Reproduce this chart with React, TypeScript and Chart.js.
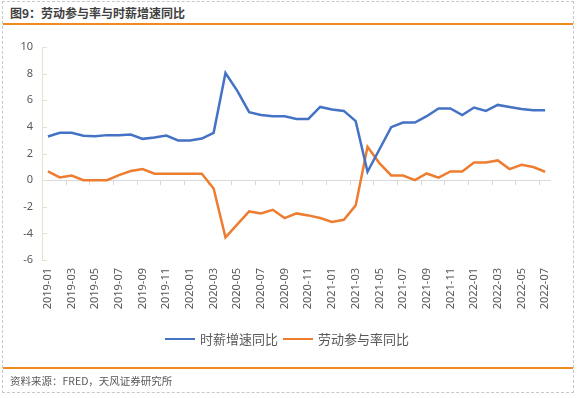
import React, { useEffect, useRef } from 'react';
import { Chart, registerables } from 'chart.js';

Chart.register(...registerables);

const months = [
  '2019-01', '2019-02', '2019-03', '2019-04', '2019-05', '2019-06', '2019-07', '2019-08', '2019-09', '2019-10', '2019-11', '2019-12',
  '2020-01', '2020-02', '2020-03', '2020-04', '2020-05', '2020-06', '2020-07', '2020-08', '2020-09', '2020-10', '2020-11', '2020-12',
  '2021-01', '2021-02', '2021-03', '2021-04', '2021-05', '2021-06', '2021-07', '2021-08', '2021-09', '2021-10', '2021-11', '2021-12',
  '2022-01', '2022-02', '2022-03', '2022-04', '2022-05', '2022-06', '2022-07',
];

const wageGrowth = [
  3.28, 3.55, 3.55, 3.33, 3.3, 3.38, 3.38, 3.43, 3.1, 3.2, 3.35, 2.98,
  2.98, 3.12, 3.55, 8.05, 6.7, 5.1, 4.9, 4.8, 4.8, 4.6, 4.6, 5.5,
  5.3, 5.2, 4.43, 0.63, 2.3, 3.98, 4.33, 4.33, 4.8, 5.38, 5.38, 4.88,
  5.45, 5.2, 5.65, 5.5, 5.35, 5.25, 5.25,
];

const participationGrowth = [
  0.65, 0.2, 0.35, 0.0, 0.0, 0.0, 0.38, 0.68, 0.83, 0.48, 0.48, 0.48,
  0.48, 0.48, -0.63, -4.3, -3.33, -2.35, -2.5, -2.23, -2.85, -2.5, -2.65, -2.85,
  -3.15, -2.98, -1.9, 2.5, 1.28, 0.35, 0.35, 0.0, 0.5, 0.18, 0.65, 0.65,
  1.33, 1.33, 1.48, 0.83, 1.15, 0.98, 0.63,
];

const seriesNames = ['时薪增速同比', '劳动参与率同比'];
const seriesColors = ['#4472C4', '#ED7D31'];
const yMin = -6;
const yMax = 10;
const yStep = 2;

const axisMarks = {
  id: 'axisMarks',
  beforeDatasetsDraw(chart: any) {
    const { ctx, scales } = chart;
    const x = scales.x;
    const y = scales.y;
    const zeroY = y.getPixelForValue(0);
    ctx.save();
    ctx.lineWidth = 1;
    // x tick marks on the zero line, every 2 categories
    ctx.strokeStyle = '#d9d9d9';
    for (let k = 2; k < months.length; k += 2) {
      const px = Math.round(x.getPixelForValue(k - 0.5)) + 0.5;
      ctx.beginPath();
      ctx.moveTo(px, zeroY);
      ctx.lineTo(px, zeroY + 5);
      ctx.stroke();
    }
    // y tick marks pointing right
    ctx.strokeStyle = '#e6e1cc';
    for (let v = yMin; v <= yMax; v += yStep) {
      const py = Math.round(y.getPixelForValue(v)) + 0.5;
      ctx.beginPath();
      ctx.moveTo(x.left, py);
      ctx.lineTo(x.left + 5, py);
      ctx.stroke();
    }
    ctx.restore();
  },
};

export default function App() {
  const canvasRef = useRef<HTMLCanvasElement | null>(null);

  useEffect(() => {
    const canvas = canvasRef.current;
    if (!canvas) return;
    const chart = new Chart(canvas, {
      type: 'line',
      data: {
        labels: months,
        datasets: [
          {
            label: seriesNames[0],
            data: wageGrowth,
            borderColor: seriesColors[0],
            backgroundColor: seriesColors[0],
            borderWidth: 2.5,
            pointRadius: 0,
            tension: 0,
          },
          {
            label: seriesNames[1],
            data: participationGrowth,
            borderColor: seriesColors[1],
            backgroundColor: seriesColors[1],
            borderWidth: 2.5,
            pointRadius: 0,
            tension: 0,
          },
        ],
      },
      options: {
        responsive: false,
        animation: false,
        devicePixelRatio: 1,
        layout: { padding: { top: 47, left: 0, right: 26, bottom: 0 } },
        plugins: {
          legend: { display: false },
          tooltip: { enabled: false },
        },
        scales: {
          x: {
            type: 'category',
            offset: true,
            grid: { display: false, drawTicks: false },
            border: { display: false },
            ticks: {
              autoSkip: false,
              maxRotation: 90,
              minRotation: 90,
              padding: 8,
              color: '#595959',
              font: { family: "'Noto Sans', 'Noto Sans CJK SC', sans-serif", size: 11 },
              callback: (_v: any, i: number) => (i % 2 === 0 ? months[i] : ''),
            },
            afterFit: (scale: any) => {
              scale.height = 138;
            },
          },
          y: {
            min: yMin,
            max: yMax,
            grid: {
              drawTicks: false,
              lineWidth: 1,
              color: (c: any) => (c.tick && c.tick.value === 0 ? '#d9d9d9' : 'rgba(0,0,0,0)'),
            },
            border: { display: true, color: '#e6e1cc', width: 1 },
            ticks: {
              stepSize: yStep,
              padding: 9,
              color: '#595959',
              font: { family: "'Noto Sans', 'Noto Sans CJK SC', sans-serif", size: 11 },
            },
            afterFit: (scale: any) => {
              scale.width = 42;
            },
          },
        },
      },
      plugins: [axisMarks],
    });
    return () => chart.destroy();
  }, []);

  const font = "'Noto Sans CJK SC', 'Noto Sans', sans-serif";

  return (
    <div
      style={{
        position: 'absolute',
        left: 0,
        top: 0,
        width: 577,
        height: 398,
        background: '#ffffff',
        fontFamily: font,
      }}
    >
      <div
        style={{
          position: 'absolute',
          left: 2,
          top: 1,
          width: 570,
          height: 390,
          border: '1px dashed #c8c8c8',
        }}
      />
      <div
        style={{
          position: 'absolute',
          left: 10,
          top: 4,
          fontSize: 12,
          fontWeight: 700,
          color: '#404040',
          lineHeight: '18px',
          whiteSpace: 'nowrap',
        }}
      >
        图9：劳动参与率与时薪增速同比
      </div>
      <div style={{ position: 'absolute', left: 3, top: 23, width: 570, height: 2, background: '#F28A22' }} />
      <canvas
        ref={canvasRef}
        width={577}
        height={398}
        style={{ position: 'absolute', left: 0, top: 0, width: 577, height: 398 }}
      />
      <div
        style={{
          position: 'absolute',
          left: 165,
          top: 330,
          display: 'flex',
          alignItems: 'center',
          fontSize: 13,
          color: '#595959',
          lineHeight: '18px',
          whiteSpace: 'nowrap',
        }}
      >
        <span style={{ display: 'inline-block', width: 30, height: 2.5, background: seriesColors[0], marginRight: 5 }} />
        <span style={{ marginRight: 5 }}>{seriesNames[0]}</span>
        <span style={{ display: 'inline-block', width: 30, height: 2.5, background: seriesColors[1], marginRight: 5 }} />
        <span>{seriesNames[1]}</span>
      </div>
      <div style={{ position: 'absolute', left: 3, top: 367, width: 570, height: 2, background: '#F28A22' }} />
      <div
        style={{
          position: 'absolute',
          left: 10,
          top: 373,
          fontSize: 10.5,
          color: '#595959',
          lineHeight: '16px',
          whiteSpace: 'nowrap',
        }}
      >
        资料来源：FRED，天风证券研究所
      </div>
    </div>
  );
}
